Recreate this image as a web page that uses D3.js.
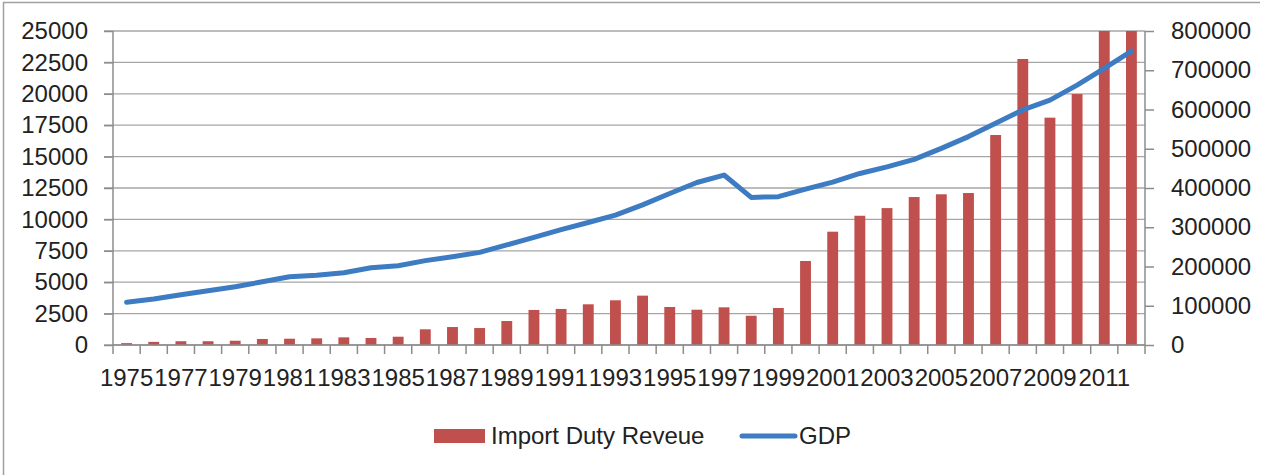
<!DOCTYPE html>
<html lang="en">
<head>
    <meta charset="UTF-8" />
    <title>Import Duty Revenue and GDP</title>
    <script src="https://d3js.org/d3.v7.min.js"></script>
    <style>
        body { margin: 0; background: #fff; }
        text { font-family: "Liberation Sans", Arial, sans-serif; fill: #222; }
    </style>
</head>
<body>
    <script>
        // data
        var years = d3.range(1975, 2013);
        var importDuty = [150, 250, 300, 300, 340, 480, 500, 530, 610, 560,
                          660, 1250, 1430, 1350, 1910, 2790, 2870, 3240, 3560, 3930,
                          3025, 2810, 3000, 2330, 2945, 6690, 9020, 10290, 10900, 11780,
                          12000, 12100, 16720, 22770, 18100, 19980, 25000, 25000];
        var gdp = [109000, 117000, 128000, 138000, 148600, 161000, 174000, 178000, 184000, 197000,
                   202000, 215000, 225000, 236000, 255000, 274000, 294000, 312000, 331000, 357000,
                   386000, 414000, 433000, 376000, 378000, 397000, 415000, 437000, 454000, 473000,
                   501000, 531000, 565000, 599000, 624000, 662000, 705000, 749000];
        var leftTicks = d3.range(0, 25001, 2500);
        var rightTicks = d3.range(0, 800001, 100000);
        var labelYears = years.filter(function(d, i) { return i % 2 === 0 && d <= 2011; });

        var w = 1267;
        var h = 475;
        var plot = { left: 113, right: 1145, top: 31, bottom: 345 };
        var barColor = "#C0504D";
        var lineColor = "#3D7CC2";
        var gridColor = "#A6A6A6";
        var axisColor = "#8C8C8C";

        var svg = d3.select("body")
            .append("svg")
            .attr("width", w)
            .attr("height", h);

        // chart border (only top and left are in frame)
        svg.append("path")
            .attr("d", "M3.5," + h + "V2.5H1260")
            .attr("fill", "none")
            .attr("stroke", "#A0A0A0")
            .attr("stroke-width", 1.5);

        // Scales
        var xScale = d3.scaleBand()
            .domain(years)
            .range([plot.left, plot.right]);

        var yLeft = d3.scaleLinear()
            .domain([0, 25000])
            .range([plot.bottom, plot.top]);

        var yRight = d3.scaleLinear()
            .domain([0, 800000])
            .range([plot.bottom, plot.top]);

        // gridlines
        svg.append("g")
            .selectAll("line")
            .data(leftTicks)
            .enter()
            .append("line")
            .attr("x1", plot.left - 9)
            .attr("x2", plot.right)
            .attr("y1", function(d) { return yLeft(d); })
            .attr("y2", function(d) { return yLeft(d); })
            .attr("stroke", gridColor)
            .attr("stroke-width", 1.3);

        // left axis
        var leftAxis = svg.append("g")
            .attr("transform", "translate(" + plot.left + ",0)")
            .call(d3.axisLeft(yLeft).tickValues(leftTicks).tickFormat(d3.format("d"))
                .tickSize(9).tickPadding(16));

        // right axis
        var rightAxis = svg.append("g")
            .attr("transform", "translate(" + plot.right + ",0)")
            .call(d3.axisRight(yRight).tickValues(rightTicks).tickFormat(d3.format("d"))
                .tickSize(9).tickPadding(17));

        [leftAxis, rightAxis].forEach(function(a) {
            a.select(".domain").attr("stroke", axisColor).attr("stroke-width", 1.5)
                .attr("d", "M0," + plot.top + "V" + plot.bottom);
            a.selectAll(".tick line").attr("stroke", axisColor).attr("stroke-width", 1.5);
            a.selectAll("text").attr("font-size", 24).attr("fill", "#222");
        });

        // bars
        var barW = xScale.bandwidth() / 2.5;
        svg.append("g")
            .selectAll("rect")
            .data(importDuty)
            .enter()
            .append("rect")
            .attr("x", function(d, i) { return xScale(years[i]) + (xScale.bandwidth() - barW) / 2; })
            .attr("y", function(d) { return yLeft(Math.min(d, 25000)); })
            .attr("width", barW)
            .attr("height", function(d) { return plot.bottom - yLeft(Math.min(d, 25000)); })
            .attr("fill", barColor);

        // x axis line and ticks at category boundaries
        var xg = svg.append("g");
        xg.append("line")
            .attr("x1", plot.left)
            .attr("x2", plot.right)
            .attr("y1", plot.bottom)
            .attr("y2", plot.bottom)
            .attr("stroke", axisColor)
            .attr("stroke-width", 1.5);
        xg.selectAll("line.tick")
            .data(years.map(function(d) { return xScale(d); }).concat([plot.right]))
            .enter()
            .append("line")
            .attr("class", "tick")
            .attr("x1", function(d) { return d; })
            .attr("x2", function(d) { return d; })
            .attr("y1", plot.bottom)
            .attr("y2", plot.bottom + 9)
            .attr("stroke", axisColor)
            .attr("stroke-width", 1.5);

        // x labels, every other year
        var xAxis = svg.append("g")
            .attr("transform", "translate(0," + plot.bottom + ")")
            .call(d3.axisBottom(xScale).tickValues(labelYears).tickSize(0).tickPadding(24));
        xAxis.select(".domain").remove();
        xAxis.selectAll("text").attr("font-size", 24).attr("fill", "#222");

        // GDP line
        var line = d3.line()
            .x(function(d, i) { return xScale(years[i]) + xScale.bandwidth() / 2; })
            .y(function(d) { return yRight(d); });

        svg.append("path")
            .datum(gdp)
            .attr("d", line)
            .attr("fill", "none")
            .attr("stroke", lineColor)
            .attr("stroke-width", 5)
            .attr("stroke-linejoin", "round")
            .attr("stroke-linecap", "round");

        // legend
        var legend = svg.append("g");
        legend.append("rect")
            .attr("x", 434)
            .attr("y", 429)
            .attr("width", 51)
            .attr("height", 14)
            .attr("fill", barColor);
        legend.append("text")
            .attr("x", 491)
            .attr("y", 444)
            .attr("font-size", 24)
            .text("Import Duty Reveue");
        legend.append("line")
            .attr("x1", 742)
            .attr("x2", 795)
            .attr("y1", 436)
            .attr("y2", 436)
            .attr("stroke", lineColor)
            .attr("stroke-width", 5)
            .attr("stroke-linecap", "round");
        legend.append("text")
            .attr("x", 799)
            .attr("y", 444)
            .attr("font-size", 24)
            .text("GDP");
    </script>
</body>
</html>
